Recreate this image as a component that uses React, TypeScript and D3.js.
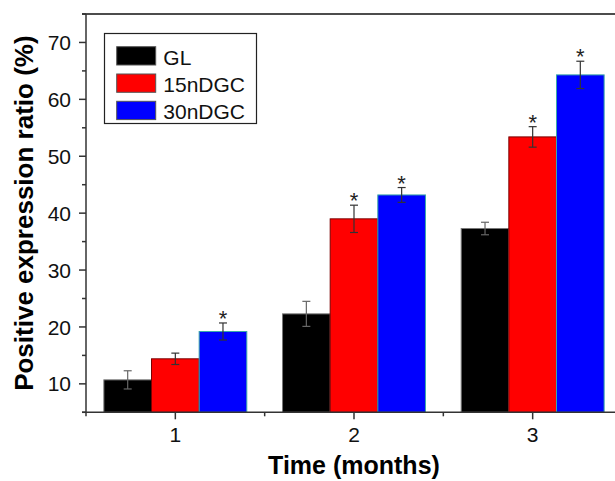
import React, { useEffect, useRef } from "react";
import * as d3 from "d3";

const months = [1, 2, 3];
const seriesNames = ["GL", "15nDGC", "30nDGC"];
const seriesColors = ["#000000", "#ff0000", "#0000ff"];
const seriesStrokes = ["#777777", "#7a0000", "#3aa8a8"];

const glValues = [10.7, 22.3, 37.3];
const glErrors = [1.6, 2.2, 1.1];
const dgc15Values = [14.4, 39.0, 53.4];
const dgc15Errors = [1.0, 2.4, 1.8];
const dgc30Values = [19.2, 43.2, 64.3];
const dgc30Errors = [1.5, 1.3, 2.4];

const glStars = [false, false, false];
const dgc15Stars = [false, true, true];
const dgc30Stars = [true, true, true];

const yMajorTicks = [10, 20, 30, 40, 50, 60, 70];
const yMinorTicks = [5, 15, 25, 35, 45, 55, 65, 75];
const xMinorTicks = [0.5, 1.5, 2.5];

const FONT = "'Liberation Sans', Arial, sans-serif";

const App = () => {
  const svgRef = useRef<SVGSVGElement | null>(null);

  useEffect(() => {
    const svg = d3.select(svgRef.current);
    svg.selectAll("*").remove();

    const left = 86;
    const top = 14;
    const bottom = 412.3;
    const right = 622;

    const x = d3.scaleLinear().domain([0.5, 3.5]).range([left, right]);
    const y = d3.scaleLinear().domain([5, 75]).range([bottom, top]);

    const groupW = 0.8 * (x(2) - x(1));
    const inner = d3
      .scaleBand()
      .domain(seriesNames)
      .range([-groupW / 2, groupW / 2]);

    const series = [
      { name: seriesNames[0], values: glValues, errors: glErrors, stars: glStars },
      { name: seriesNames[1], values: dgc15Values, errors: dgc15Errors, stars: dgc15Stars },
      { name: seriesNames[2], values: dgc30Values, errors: dgc30Errors, stars: dgc30Stars },
    ];

    const rows = series.flatMap((s, si) =>
      months.map((m, i) => ({
        si,
        name: s.name,
        month: m,
        value: s.values[i],
        err: s.errors[i],
        star: s.stars[i],
      }))
    );

    // bars
    svg
      .selectAll(".bar")
      .data(rows)
      .enter()
      .append("rect")
      .attr("class", "bar")
      .attr("x", (d) => x(d.month) + (inner(d.name) as number))
      .attr("y", (d) => y(d.value))
      .attr("width", inner.bandwidth())
      .attr("height", (d) => bottom - y(d.value))
      .attr("fill", (d) => seriesColors[d.si])
      .attr("stroke", (d) => seriesStrokes[d.si])
      .attr("stroke-width", 1);

    // error bars
    const eg = svg
      .selectAll(".err")
      .data(rows)
      .enter()
      .append("g")
      .attr("class", "err")
      .attr("stroke", (d) => (d.si === 0 ? "#666" : "#333"))
      .attr("stroke-width", 1.2);
    const cx = (d: any) => x(d.month) + (inner(d.name) as number) + inner.bandwidth() / 2;
    eg.append("line")
      .attr("x1", cx)
      .attr("x2", cx)
      .attr("y1", (d) => y(d.value + d.err))
      .attr("y2", (d) => y(d.value - d.err));
    eg.append("line")
      .attr("x1", (d) => cx(d) - 4)
      .attr("x2", (d) => cx(d) + 4)
      .attr("y1", (d) => y(d.value + d.err))
      .attr("y2", (d) => y(d.value + d.err));
    eg.append("line")
      .attr("x1", (d) => cx(d) - 4)
      .attr("x2", (d) => cx(d) + 4)
      .attr("y1", (d) => y(d.value - d.err))
      .attr("y2", (d) => y(d.value - d.err));

    // significance stars
    svg
      .selectAll(".star")
      .data(rows.filter((d) => d.star))
      .enter()
      .append("text")
      .attr("class", "star")
      .attr("x", cx)
      .attr("y", (d) => y(d.value + d.err) + 3)
      .attr("text-anchor", "middle")
      .style("font-family", FONT)
      .style("font-size", "22px")
      .attr("fill", "#222")
      .text("*");

    // frame top line
    svg
      .append("line")
      .attr("x1", left - 4)
      .attr("x2", right)
      .attr("y1", top)
      .attr("y2", top)
      .attr("stroke", "#111")
      .attr("stroke-width", 1.5);

    // y axis
    const yAxis = svg.append("g").attr("transform", `translate(${left},0)`);
    yAxis
      .append("line")
      .attr("y1", top)
      .attr("y2", bottom)
      .attr("stroke", "#333")
      .attr("stroke-width", 1.5);
    yAxis
      .selectAll(".ymaj")
      .data(yMajorTicks)
      .enter()
      .append("line")
      .attr("x1", -7)
      .attr("x2", 0)
      .attr("y1", (d) => y(d))
      .attr("y2", (d) => y(d))
      .attr("stroke", "#333")
      .attr("stroke-width", 1.5);
    yAxis
      .selectAll(".ymin")
      .data(yMinorTicks)
      .enter()
      .append("line")
      .attr("x1", -4)
      .attr("x2", 0)
      .attr("y1", (d) => y(d))
      .attr("y2", (d) => y(d))
      .attr("stroke", "#333")
      .attr("stroke-width", 1.5);
    yAxis
      .selectAll(".ylab")
      .data(yMajorTicks)
      .enter()
      .append("text")
      .attr("x", -15)
      .attr("y", (d) => y(d))
      .attr("dy", "0.36em")
      .attr("text-anchor", "end")
      .style("font-family", FONT)
      .style("font-size", "21px")
      .attr("fill", "#111")
      .text((d) => d);

    // x axis
    const xAxis = svg.append("g").attr("transform", `translate(0,${bottom})`);
    xAxis
      .append("line")
      .attr("x1", left - 4)
      .attr("x2", right)
      .attr("stroke", "#333")
      .attr("stroke-width", 1.5);
    xAxis
      .selectAll(".xmaj")
      .data(months)
      .enter()
      .append("line")
      .attr("x1", (d) => x(d))
      .attr("x2", (d) => x(d))
      .attr("y1", 0)
      .attr("y2", 7)
      .attr("stroke", "#333")
      .attr("stroke-width", 1.5);
    xAxis
      .selectAll(".xmin")
      .data(xMinorTicks)
      .enter()
      .append("line")
      .attr("x1", (d) => x(d))
      .attr("x2", (d) => x(d))
      .attr("y1", 0)
      .attr("y2", 4)
      .attr("stroke", "#333")
      .attr("stroke-width", 1.5);
    xAxis
      .selectAll(".xlab")
      .data(months)
      .enter()
      .append("text")
      .attr("x", (d) => x(d))
      .attr("y", 30)
      .attr("text-anchor", "middle")
      .style("font-family", FONT)
      .style("font-size", "21px")
      .attr("fill", "#111")
      .text((d) => d);

    // axis titles
    svg
      .append("text")
      .attr("x", (left + right) / 2)
      .attr("y", 474)
      .attr("text-anchor", "middle")
      .style("font-family", FONT)
      .style("font-size", "25px")
      .style("font-weight", "bold")
      .text("Time (months)");
    svg
      .append("text")
      .attr("transform", `translate(33,${(top + bottom) / 2}) rotate(-90)`)
      .attr("text-anchor", "middle")
      .style("font-family", FONT)
      .style("font-size", "26px")
      .style("font-weight", "bold")
      .text("Positive expression ratio (%)");

    // legend
    const legend = svg.append("g");
    legend
      .append("rect")
      .attr("x", 104.5)
      .attr("y", 33.5)
      .attr("width", 152)
      .attr("height", 90)
      .attr("fill", "white")
      .attr("stroke", "#222")
      .attr("stroke-width", 1.2);
    seriesNames.forEach((name, i) => {
      const ly = 46.7 + i * 27.3;
      legend
        .append("rect")
        .attr("x", 116.7)
        .attr("y", ly)
        .attr("width", 39)
        .attr("height", 18.3)
        .attr("fill", seriesColors[i])
        .attr("stroke", "#555")
        .attr("stroke-width", 1);
      legend
        .append("text")
        .attr("x", 163.3)
        .attr("y", ly + 17.8)
        .style("font-family", FONT)
        .style("font-size", "21px")
        .attr("fill", "#111")
        .text(name);
    });

    return () => {
      svg.selectAll("*").remove();
    };
  }, []);

  return (
    <svg
      ref={svgRef}
      width={615}
      height={481}
      style={{ position: "absolute", left: 0, top: 0, background: "white" }}
    ></svg>
  );
};

export default App;
